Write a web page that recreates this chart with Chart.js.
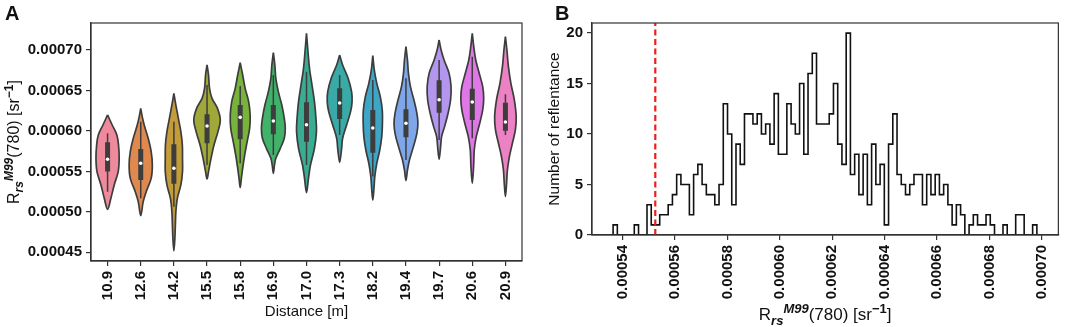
<!DOCTYPE html>
<html>
<head>
<meta charset="utf-8">
<script src="https://cdn.jsdelivr.net/npm/chart.js@4.4.1/dist/chart.umd.min.js"></script>
<style>
  html, body { margin: 0; padding: 0; background: #fff; }
  #wrap { position: relative; width: 1065px; height: 327px; }
  #wrap canvas { position: absolute; top: 0; }
</style>
</head>
<body>
<div id="wrap">
  <canvas id="violin" width="540" height="327" style="left:0"></canvas>
  <canvas id="hist" width="525" height="327" style="left:540px"></canvas>
</div>
<script>
// ---- panel A: violins per distance ----
const distances = ["10.9", "12.6", "14.2", "15.5", "15.8", "16.9", "17.0", "17.3", "18.2", "19.4", "19.7", "20.6", "20.9"];

// outline of each violin, top to bottom: [Rrs value, half width in category units]
const violinProfiles = [
  [[61.97e-5, 0], [60.73e-5, 0.14], [59.50e-5, 0.28], [58.26e-5, 0.33], [56.61e-5, 0.35], [54.97e-5, 0.32], [53.32e-5, 0.20], [51.67e-5, 0.10], [50.31e-5, 0]],
  [[62.79e-5, 0], [61.76e-5, 0.045], [60.73e-5, 0.105], [59.09e-5, 0.225], [57.44e-5, 0.315], [55.79e-5, 0.35], [54.14e-5, 0.315], [52.49e-5, 0.165], [51.26e-5, 0.075], [49.53e-5, 0]],
  [[64.65e-5, 0], [63.20e-5, 0.06], [61.56e-5, 0.135], [59.91e-5, 0.21], [58.26e-5, 0.255], [56.61e-5, 0.26], [54.97e-5, 0.26], [53.32e-5, 0.21], [51.67e-5, 0.105], [50.02e-5, 0.06], [48.37e-5, 0.045], [46.73e-5, 0.03], [45.16e-5, 0]],
  [[68.15e-5, 0], [66.91e-5, 0.045], [65.26e-5, 0.075], [64.03e-5, 0.15], [62.79e-5, 0.315], [61.35e-5, 0.40], [59.91e-5, 0.33], [58.26e-5, 0.21], [56.61e-5, 0.12], [54.97e-5, 0.045], [54.06e-5, 0]],
  [[68.44e-5, 0], [66.91e-5, 0.075], [65.26e-5, 0.15], [63.62e-5, 0.255], [61.97e-5, 0.30], [60.32e-5, 0.285], [58.67e-5, 0.21], [57.02e-5, 0.135], [55.38e-5, 0.075], [54.14e-5, 0.035], [52.99e-5, 0]],
  [[69.67e-5, 0], [68.15e-5, 0.045], [66.50e-5, 0.075], [64.85e-5, 0.15], [63.20e-5, 0.255], [61.56e-5, 0.33], [60.32e-5, 0.36], [59.09e-5, 0.33], [57.85e-5, 0.21], [56.61e-5, 0.075], [55.79e-5, 0.035], [54.76e-5, 0]],
  [[72.06e-5, 0], [69.79e-5, 0.045], [67.73e-5, 0.09], [65.68e-5, 0.165], [63.62e-5, 0.24], [61.56e-5, 0.285], [59.91e-5, 0.30], [57.85e-5, 0.24], [55.79e-5, 0.12], [54.14e-5, 0.06], [52.37e-5, 0]],
  [[69.38e-5, 0], [68.15e-5, 0.09], [66.50e-5, 0.255], [64.85e-5, 0.36], [63.62e-5, 0.375], [62.38e-5, 0.33], [60.73e-5, 0.21], [59.09e-5, 0.09], [57.85e-5, 0.06], [56.12e-5, 0]],
  [[69.30e-5, 0], [67.53e-5, 0.045], [65.88e-5, 0.12], [64.23e-5, 0.225], [62.59e-5, 0.285], [60.94e-5, 0.29], [59.29e-5, 0.27], [57.64e-5, 0.21], [55.99e-5, 0.12], [54.35e-5, 0.06], [52.91e-5, 0.035], [51.46e-5, 0]],
  [[70.41e-5, 0], [68.77e-5, 0.045], [67.12e-5, 0.075], [65.47e-5, 0.135], [63.82e-5, 0.24], [62.18e-5, 0.33], [60.94e-5, 0.36], [59.70e-5, 0.33], [58.06e-5, 0.225], [56.41e-5, 0.105], [55.17e-5, 0.045], [53.85e-5, 0]],
  [[71.24e-5, 0], [70.00e-5, 0.06], [68.77e-5, 0.15], [67.12e-5, 0.30], [65.47e-5, 0.36], [63.82e-5, 0.345], [62.18e-5, 0.27], [60.53e-5, 0.165], [59.29e-5, 0.075], [58.06e-5, 0.045], [56.49e-5, 0]],
  [[72.06e-5, 0], [70.41e-5, 0.045], [68.77e-5, 0.105], [67.12e-5, 0.21], [65.47e-5, 0.315], [64.03e-5, 0.345], [62.59e-5, 0.315], [60.94e-5, 0.225], [59.29e-5, 0.12], [57.64e-5, 0.06], [55.58e-5, 0.04], [53.52e-5, 0]],
  [[71.65e-5, 0], [70.00e-5, 0.045], [67.94e-5, 0.09], [65.88e-5, 0.165], [63.82e-5, 0.27], [61.76e-5, 0.325], [60.12e-5, 0.30], [58.47e-5, 0.21], [56.82e-5, 0.12], [55.17e-5, 0.06], [53.52e-5, 0.035], [51.88e-5, 0]]
];

// inner box plot
const whiskerHigh = [59.70e-5, 61.14e-5, 61.14e-5, 65.68e-5, 65.55e-5, 66.91e-5, 67.32e-5, 66.91e-5, 66.29e-5, 66.50e-5, 68.77e-5, 69.18e-5, 64.52e-5];
const q3          = [58.59e-5, 57.77e-5, 58.34e-5, 62.05e-5, 63.20e-5, 63.20e-5, 63.53e-5, 65.26e-5, 62.59e-5, 62.67e-5, 66.25e-5, 65.22e-5, 63.49e-5];
const medians     = [56.49e-5, 56.00e-5, 55.38e-5, 60.61e-5, 61.68e-5, 61.23e-5, 60.77e-5, 63.45e-5, 60.36e-5, 60.94e-5, 63.86e-5, 63.58e-5, 61.10e-5];
const q1          = [54.97e-5, 53.93e-5, 53.48e-5, 58.47e-5, 58.96e-5, 59.58e-5, 58.67e-5, 61.47e-5, 57.31e-5, 59.21e-5, 62.26e-5, 61.35e-5, 60.03e-5];
const whiskerLow  = [52.49e-5, 51.67e-5, 50.64e-5, 55.79e-5, 55.99e-5, 57.02e-5, 55.79e-5, 59.50e-5, 54.35e-5, 56.41e-5, 58.88e-5, 59.08e-5, 59.50e-5];

const violinTicks = [45e-5, 50e-5, 55e-5, 60e-5, 65e-5, 70e-5];

// ---- panel B: histogram (100 bins) ----
const histStart = 53.64e-5;
const histEnd = 69.81e-5;
const histCounts = [
  1, 0, 0, 0, 0, 1, 0, 0, 3, 1, 1, 2, 2, 3, 4, 6, 5, 5, 2, 6,
  7, 5, 4, 4, 3, 5, 13, 10, 3, 9, 7, 12, 12, 11, 12, 10, 11, 9, 14, 8,
  8, 13, 11, 10, 15, 8, 16, 18, 11, 11, 11, 12, 15, 9, 7, 20, 6, 8, 4, 8,
  3, 9, 5, 7, 1, 9, 12, 6, 5, 4, 5, 6, 6, 3, 6, 4, 6, 4, 5, 3,
  1, 3, 2, 0, 1, 2, 1, 1, 2, 1, 0, 0, 1, 0, 0, 2, 2, 0, 0, 1
];
const threshold = 55.25e-5;
const histXTicks = [54e-5, 56e-5, 58e-5, 60e-5, 62e-5, 64e-5, 66e-5, 68e-5, 70e-5];
const histYTicks = [0, 5, 10, 15, 20];

// ---- styles ----
const FONT = "'Liberation Sans', Arial, Helvetica, sans-serif";
const EDGE = "#3d3d3d";
const AXIS = "#333333";
const violinColors = ["#ee8a9c", "#e0894e", "#c49c3a", "#a1a83a", "#78b33c", "#40b26a", "#38ad92", "#3aaaa6",
                      "#3ea5c7", "#7ea7ea", "#b397ee", "#df78e6", "#ec82c3"];

const tickFont = { family: FONT, size: 15, weight: "bold" };

function axisStyle(extra) {
  return Object.assign({
    grid: { display: true, drawOnChartArea: false, drawTicks: true, tickLength: 5, color: AXIS, lineWidth: 1.2 },
    border: { display: true, color: AXIS, width: 1.2 }
  }, extra);
}

function drawRich(ctx, parts, x, y, angle) {
  ctx.save();
  ctx.translate(x, y);
  ctx.rotate(angle);
  ctx.textBaseline = "alphabetic";
  ctx.textAlign = "left";
  ctx.fillStyle = "#111";
  let total = 0;
  parts.forEach((p) => { ctx.font = p.font; p.w = ctx.measureText(p.text).width; total += p.w; });
  let cx = -total / 2;
  parts.forEach((p) => { ctx.font = p.font; ctx.fillText(p.text, cx, p.dy || 0); cx += p.w; });
  ctx.restore();
}

function rrsLabel(size) {
  const sub = Math.round(size * 0.75);
  return [
    { text: "R", font: `${size}px ${FONT}` },
    { text: "rs", font: `italic bold ${sub}px ${FONT}`, dy: size * 0.28 },
    { text: "M99", font: `italic bold ${sub}px ${FONT}`, dy: -size * 0.4 },
    { text: "(780) [sr", font: `${size}px ${FONT}` },
    { text: "\u22121", font: `bold ${sub}px ${FONT}`, dy: -size * 0.4 },
    { text: "]", font: `${size}px ${FONT}` }
  ];
}

// frame + text titles drawn on top of the chart
const decorPlugin = {
  id: "decor",
  afterDraw(chart, args, opts) {
    const { ctx, chartArea: a } = chart;
    ctx.save();
    ctx.strokeStyle = AXIS;
    ctx.lineWidth = 1.2;
    ctx.strokeRect(a.left, a.top, a.right - a.left, a.bottom - a.top);
    ctx.restore();

    ctx.save();
    ctx.fillStyle = "#111";
    ctx.font = `bold 20px ${FONT}`;
    ctx.textBaseline = "alphabetic";
    ctx.fillText(opts.panel, opts.panelX, 20);
    ctx.restore();

    const cy = (a.top + a.bottom) / 2;
    const cx = (a.left + a.right) / 2;
    drawRich(ctx, opts.yTitle, opts.yTitleX, cy, -Math.PI / 2);
    drawRich(ctx, opts.xTitle, cx, opts.xTitleY, 0);
  }
};

// ---- chart A ----
const violinSets = violinProfiles.map((prof, i) => {
  const right = prof.map(([v, w]) => ({ x: i + w, y: v }));
  const left = prof.slice().reverse().map(([v, w]) => ({ x: i - w, y: v }));
  return {
    type: "scatter",
    data: right.concat(left.slice(1)),
    showLine: true,
    fill: "shape",
    backgroundColor: violinColors[i],
    borderColor: EDGE,
    borderWidth: 1.7,
    pointRadius: 0,
    tension: 0.35,
    order: 10
  };
});

const whiskerData = distances.flatMap((_, i) => [{ x: i, y: whiskerLow[i] }, { x: i, y: whiskerHigh[i] }, { x: i, y: null }]);
const boxData = distances.flatMap((_, i) => [{ x: i, y: q1[i] }, { x: i, y: q3[i] }, { x: i, y: null }]);
const medianData = distances.map((_, i) => ({ x: i, y: medians[i] }));

new Chart(document.getElementById("violin"), {
  type: "scatter",
  data: {
    datasets: [
      { data: medianData, pointRadius: 1.8, pointBackgroundColor: "#ffffff", pointBorderWidth: 0, showLine: false, order: 0 },
      { data: boxData, showLine: true, spanGaps: false, borderColor: EDGE, borderWidth: 5, borderCapStyle: "butt", pointRadius: 0, order: 1 },
      { data: whiskerData, showLine: true, spanGaps: false, borderColor: EDGE, borderWidth: 1.5, pointRadius: 0, order: 2 },
      ...violinSets
    ]
  },
  options: {
    responsive: false,
    animation: false,
    devicePixelRatio: 1,
    layout: { padding: { top: 23, right: 18, left: 0, bottom: 0 } },
    plugins: {
      legend: { display: false },
      tooltip: { enabled: false },
      decor: {
        panel: "A", panelX: 5,
        yTitle: rrsLabel(16), yTitleX: 19,
        xTitle: [{ text: "Distance [m]", font: `15px ${FONT}` }], xTitleY: 316
      }
    },
    scales: {
      x: axisStyle({
        type: "linear",
        min: -0.5,
        max: distances.length - 0.5,
        afterBuildTicks: (s) => { s.ticks = distances.map((_, i) => ({ value: i })); },
        afterFit: (s) => { s.height = 66; },
        ticks: {
          font: tickFont, color: "#111", padding: 5, autoSkip: false,
          minRotation: 90, maxRotation: 90,
          callback: (v) => distances[Math.round(v)]
        }
      }),
      y: axisStyle({
        type: "linear",
        min: 43.92e-5,
        max: 73.34e-5,
        afterBuildTicks: (s) => { s.ticks = violinTicks.map((v) => ({ value: v })); },
        afterFit: (s) => { s.width = 91; },
        ticks: { font: tickFont, color: "#111", padding: 4, callback: (v) => v.toFixed(5) }
      })
    }
  },
  plugins: [decorPlugin]
});

// ---- chart B ----
const binWidth = (histEnd - histStart) / histCounts.length;
const stepData = [{ x: histStart, y: 0 }]
  .concat(histCounts.map((c, i) => ({ x: histStart + i * binWidth, y: c })))
  .concat([{ x: histEnd, y: 0 }]);

new Chart(document.getElementById("hist"), {
  type: "scatter",
  data: {
    datasets: [
      { data: [{ x: threshold, y: 0 }, { x: threshold, y: 21 }], showLine: true, borderColor: "#ee1d1d", borderWidth: 2.2, borderDash: [6, 3.5], pointRadius: 0, order: 0 },
      { data: stepData, showLine: true, stepped: "before", borderColor: "#111", borderWidth: 1.6, pointRadius: 0, order: 1 }
    ]
  },
  options: {
    responsive: false,
    animation: false,
    devicePixelRatio: 1,
    layout: { padding: { top: 23, right: 4, left: 0, bottom: 0 } },
    plugins: {
      legend: { display: false },
      tooltip: { enabled: false },
      decor: {
        panel: "B", panelX: 15,
        yTitle: [{ text: "Number of reflentance", font: `15.5px ${FONT}` }], yTitleX: 19,
        xTitle: rrsLabel(17), xTitleY: 320
      }
    },
    scales: {
      x: axisStyle({
        type: "linear",
        min: 52.835e-5,
        max: 70.63e-5,
        afterBuildTicks: (s) => { s.ticks = histXTicks.map((v) => ({ value: v })); },
        afterFit: (s) => { s.height = 92; },
        ticks: { font: tickFont, color: "#111", padding: 5, minRotation: 90, maxRotation: 90, autoSkip: false, callback: (v) => v.toFixed(5) }
      }),
      y: axisStyle({
        type: "linear",
        min: 0,
        max: 21,
        afterBuildTicks: (s) => { s.ticks = histYTicks.map((v) => ({ value: v })); },
        afterFit: (s) => { s.width = 52; },
        ticks: { font: tickFont, color: "#111", padding: 4 }
      })
    }
  },
  plugins: [decorPlugin]
});
</script>
</body>
</html>
